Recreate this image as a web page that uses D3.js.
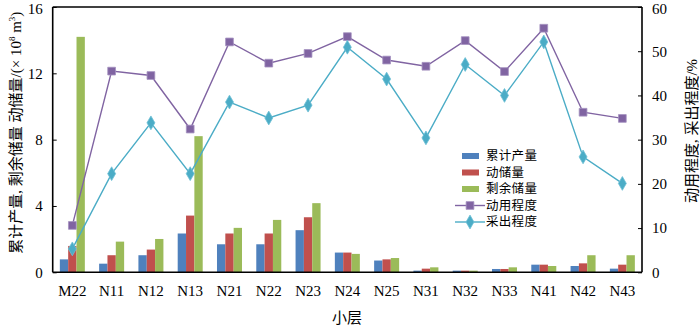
<!DOCTYPE html>
<html>
<head>
<meta charset="utf-8">
<script src="https://cdn.jsdelivr.net/npm/d3@7"></script>
<style>
  body { margin: 0; background: #fff; }
  svg text { font-family: "Liberation Serif", "Noto Sans CJK SC", serif; fill: #000; }
</style>
</head>
<body>
<div id="chart"></div>
<script>
// categories (小层)
const layers = ["M22", "N11", "N12", "N13", "N21", "N22", "N23", "N24", "N25", "N31", "N32", "N33", "N41", "N42", "N43"];
// left axis series, 10^8 m^3
const cumProd   = [0.78, 0.52, 1.03, 2.34, 1.69, 1.69, 2.54, 1.19, 0.71, 0.10, 0.10, 0.20, 0.46, 0.38, 0.22];
const dynRes    = [1.59, 1.03, 1.37, 3.42, 2.34, 2.34, 3.32, 1.19, 0.78, 0.22, 0.10, 0.20, 0.46, 0.54, 0.46];
const remainRes = [14.2, 1.85, 2.01, 8.21, 2.68, 3.16, 4.17, 1.11, 0.86, 0.30, 0.10, 0.30, 0.38, 1.03, 1.03];
// right axis series, %
const useDegree = [10.6, 45.5, 44.5, 32.4, 52.1, 47.3, 49.5, 53.3, 48.0, 46.6, 52.4, 45.4, 55.2, 36.2, 34.8];
const recovery  = [5.3, 22.3, 33.8, 22.3, 38.5, 34.9, 37.8, 50.9, 43.7, 30.4, 47.0, 40.0, 52.1, 26.1, 20.1];
const leftTicks = [0, 4, 8, 12, 16];
const rightTicks = [0, 10, 20, 30, 40, 50, 60];

const barNames = ["累计产量", "动储量", "剩余储量"];
const barColors = ["#4F81BD", "#C0504D", "#9BBB59"];

(function drawChart() {
  const width = 700, height = 328;
  const plotLeft = 52.7, plotRight = 642, plotTop = 7, plotBottom = 272.3;

  const svg = d3.select("#chart").append("svg")
    .attr("width", width)
    .attr("height", height);

  const x = d3.scaleBand().domain(layers).range([plotLeft, plotRight]).padding(0);
  const yL = d3.scaleLinear().domain([0, 16]).range([plotBottom, plotTop]);
  const yR = d3.scaleLinear().domain([0, 60]).range([plotBottom, plotTop]);

  const groupW = 25;
  const sub = d3.scaleBand().domain([0, 1, 2])
    .range([(x.bandwidth() - groupW) / 2, (x.bandwidth() + groupW) / 2]);

  // bars
  const barSeries = [cumProd, dynRes, remainRes];
  barSeries.forEach(function(vals, s) {
    svg.append("g").selectAll("rect")
      .data(vals)
      .join("rect")
        .attr("x", (d, i) => x(layers[i]) + sub(s))
        .attr("y", d => yL(d))
        .attr("width", sub.bandwidth())
        .attr("height", d => yL(0) - yL(d))
        .attr("fill", barColors[s]);
  });

  // lines
  const cx = d => x(d) + x.bandwidth() / 2;
  const lineGen = d3.line().x((d, i) => cx(layers[i])).y(d => yR(d));

  svg.append("path").datum(useDegree)
    .attr("d", lineGen).attr("fill", "none")
    .attr("stroke", "#8064A2").attr("stroke-width", 1.4);
  svg.append("path").datum(recovery)
    .attr("d", lineGen).attr("fill", "none")
    .attr("stroke", "#4BACC6").attr("stroke-width", 1.4);

  const square = d3.symbol().type(d3.symbolSquare).size(60);
  const diamond = d3.symbol().type(d3.symbolDiamond).size(55);

  svg.append("g").selectAll("path")
    .data(useDegree)
    .join("path")
      .attr("d", square)
      .attr("transform", (d, i) => `translate(${cx(layers[i])},${yR(d)})`)
      .attr("fill", "#8064A2")
      .attr("stroke", "#A592C0")
      .attr("stroke-width", 0.8);

  svg.append("g").selectAll("path")
    .data(recovery)
    .join("path")
      .attr("d", diamond)
      .attr("transform", (d, i) => `translate(${cx(layers[i])},${yR(d)})`)
      .attr("fill", "#4BACC6")
      .attr("stroke", "#6FC0D6")
      .attr("stroke-width", 0.8);

  // axes
  const axL = svg.append("g").attr("transform", `translate(${plotLeft},0)`)
    .call(d3.axisLeft(yL).tickValues(leftTicks).tickSize(-4).tickPadding(10).tickFormat(d3.format("d")));
  const axR = svg.append("g").attr("transform", `translate(${plotRight},0)`)
    .call(d3.axisRight(yR).tickValues(rightTicks).tickSize(-4).tickPadding(10).tickFormat(d3.format("d")));
  const axB = svg.append("g").attr("transform", `translate(0,${plotBottom})`)
    .call(d3.axisBottom(x).tickSize(0).tickPadding(13));

  [axL, axR, axB].forEach(function(a) {
    a.selectAll("path.domain").attr("stroke", "#000").attr("stroke-width", 1.6);
    a.selectAll("line").attr("stroke", "#000").attr("stroke-width", 1);
    a.selectAll("text").style("font-size", "15px").attr("font-family", null);
  });
  // keep the top labels inside the picture
  axL.selectAll("text").attr("dy", d => d === 16 ? "0.45em" : "0.32em");
  axR.selectAll("text").attr("dy", d => d === 60 ? "0.45em" : "0.32em");
  axL.select("path.domain").attr("d", `M0,${plotBottom}V${plotTop}`);
  axR.select("path.domain").attr("d", `M0,${plotBottom}V${plotTop}`);
  axB.select("path.domain").attr("d", `M${plotLeft},0H${plotRight}`);

  svg.append("line")
    .attr("x1", plotLeft).attr("x2", plotRight).attr("y1", plotTop).attr("y2", plotTop)
    .attr("stroke", "#000").attr("stroke-width", 1.6);

  // axis titles
  const yTitle = svg.append("text")
    .attr("transform", `translate(20.5,${(plotTop + plotBottom) / 2 - 7}) rotate(-90)`)
    .attr("text-anchor", "middle")
    .style("font-size", "15px");
  yTitle.append("tspan").text("累计产量, 剩余储量 动储量/(× 10");
  yTitle.append("tspan").attr("dy", -6).style("font-size", "9px").text("8");
  yTitle.append("tspan").attr("dy", 6).text(" m");
  yTitle.append("tspan").attr("dy", -6).style("font-size", "9px").text("3");
  yTitle.append("tspan").attr("dy", 6).text(")");

  svg.append("text")
    .attr("transform", `translate(697,131) rotate(-90)`)
    .attr("text-anchor", "middle")
    .style("font-size", "15px")
    .text("动用程度, 采出程度/%");

  svg.append("text")
    .attr("x", 347).attr("y", 323)
    .attr("text-anchor", "middle")
    .style("font-size", "15px")
    .text("小层");

  // legend
  const legendRows = [
    { name: barNames[0], type: "bar", color: barColors[0] },
    { name: barNames[1], type: "bar", color: barColors[1] },
    { name: barNames[2], type: "bar", color: barColors[2] },
    { name: "动用程度", type: "line", color: "#8064A2", sym: square, edge: "#A592C0" },
    { name: "采出程度", type: "line", color: "#4BACC6", sym: diamond, edge: "#6FC0D6" }
  ];
  const legend = svg.append("g");
  legendRows.forEach(function(r, i) {
    const ly = 156 + i * 16.5;
    if (r.type === "bar") {
      legend.append("rect")
        .attr("x", 462).attr("y", ly - 3).attr("width", 17).attr("height", 6)
        .attr("fill", r.color);
    } else {
      legend.append("line")
        .attr("x1", 455).attr("x2", 485).attr("y1", ly).attr("y2", ly)
        .attr("stroke", r.color).attr("stroke-width", 1.4);
      legend.append("path")
        .attr("d", r.sym)
        .attr("transform", `translate(470,${ly})`)
        .attr("fill", r.color).attr("stroke", r.edge).attr("stroke-width", 0.8);
    }
    legend.append("text")
      .attr("x", 486).attr("y", ly)
      .attr("dy", "0.35em")
      .style("font-size", "12.5px")
      .style("letter-spacing", "0.3px")
      .text(r.name);
  });
})();
</script>
</body>
</html>
